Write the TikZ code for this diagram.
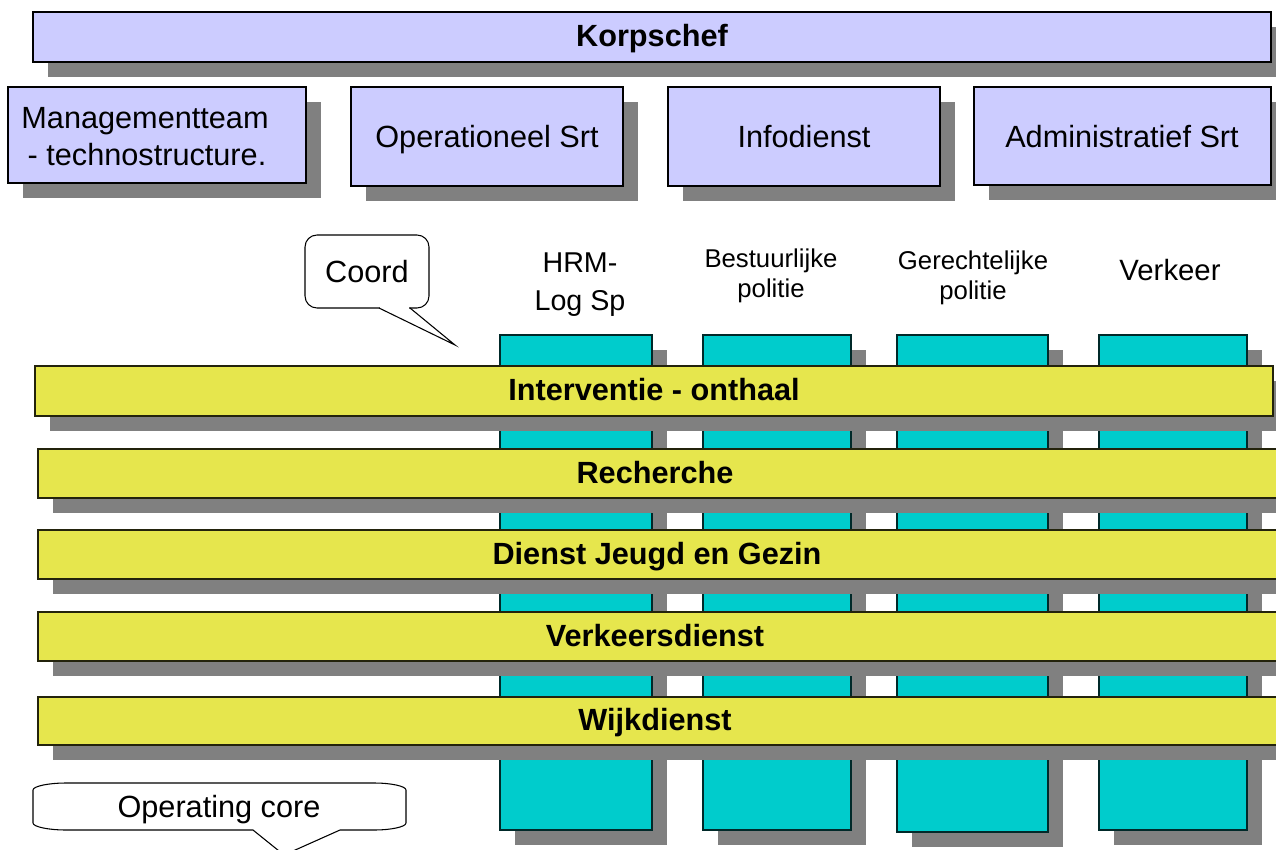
\documentclass[tikz,border=0pt]{standalone}
\usepackage{fontspec}
\setmainfont{Liberation Sans}
\usetikzlibrary{fit,shadows}
\definecolor{lav}{HTML}{CCCCFF}
\definecolor{cyanc}{HTML}{00CCCC}
\definecolor{yel}{HTML}{E6E64D}
\definecolor{shd}{HTML}{808080}
\tikzset{
  base/.style={draw=black, line width=0.9pt, inner sep=0pt,
    drop shadow={shadow xshift=11.25pt, shadow yshift=-11.25pt, fill=shd, opacity=1}},
  topbox/.style={base, fill=lav},
  colbox/.style={base, fill=cyanc, draw=black!80!cyanc},
  barbox/.style={base, fill=yel, draw=black!85!yel},
  bigtxt/.style={font=\fontsize{23}{27.75}\selectfont, inner sep=0pt, anchor=base},
  boldtxt/.style={font=\bfseries\fontsize{23}{27.75}\selectfont, inner sep=0pt, anchor=base},
  hdtxt/.style={font=\fontsize{21.5}{28.5}\selectfont, inner sep=0pt, anchor=base},
  smtxt/.style={font=\fontsize{19.3}{23}\selectfont, inner sep=0pt, anchor=base},
  callout/.style={draw=black, line width=0.8pt, fill=white},
}
\begin{document}
\begin{tikzpicture}[x=0.75pt, y=-0.75pt]
\useasboundingbox (0,0) rectangle (1276,849);
\clip (0,0) rectangle (1276,849);

% top boxes
\node[topbox, fit={(33,12) (1271,62)}] (korps) {};
\node[boldtxt] (korpst) at (652,47) {Korpschef};
\node[topbox, fit={(8,87) (306,183)}] (mgmt) {};
\node[bigtxt] (mgmtt1) at (145,128) {Managementteam};
\node[bigtxt] (mgmtt2) at (147,165) {- technostructure.};
\node[topbox, fit={(351,87) (623,186)}] (oper) {};
\node[bigtxt] (opert) at (487,147) {Operationeel Srt};
\node[topbox, fit={(668,87) (940,186)}] (info) {};
\node[bigtxt] (infot) at (804,147) {Infodienst};
\node[topbox, fit={(974,87) (1271,185)}] (admin) {};
\node[bigtxt] (admint) at (1122,147) {Administratief Srt};

% column headers
\node[hdtxt] (hrm1) at (580,272) {HRM-};
\node[hdtxt] (hrm2) at (580,310) {Log Sp};
\node[smtxt] (best1) at (771,267) {Bestuurlijke};
\node[smtxt] (best2) at (771,297) {politie};
\node[smtxt] (ger1) at (973,269) {Gerechtelijke};
\node[smtxt] (ger2) at (973,299) {politie};
\node[hdtxt, font=\fontsize{22}{28}\selectfont] (verk) at (1170,280) {Verkeer};

% columns
\node[colbox, fit={(500,335) (652,830)}] (c1) {};
\node[colbox, fit={(703,335) (851,830)}] (c2) {};
\node[colbox, fit={(897,335) (1048,832)}] (c3) {};
\node[colbox, fit={(1099,335) (1247,830)}] (c4) {};

% bars
\node[barbox, fit={(35,366) (1273,416)}] (b1) {};
\node[boldtxt] (b1t) at (654,400) {Interventie - onthaal};
\node[barbox, fit={(38,449) (1300,498)}] (b2) {};
\node[boldtxt] (b2t) at (655,483) {Recherche};
\node[barbox, fit={(38,530) (1300,579)}] (b3) {};
\node[boldtxt] (b3t) at (657,564) {Dienst Jeugd en Gezin};
\node[barbox, fit={(38,612) (1300,661)}] (b4) {};
\node[boldtxt] (b4t) at (655,646) {Verkeersdienst};
\node[barbox, fit={(38,697) (1300,745)}] (b5) {};
\node[boldtxt] (b5t) at (655,730) {Wijkdienst};

% Coord callout
\node[callout, rounded corners=9pt, minimum width=93pt, minimum height=54.75pt, inner sep=0pt] (coord) at (367,271.5) {};
\coordinate (coordtip) at (455,345);
\fill[white] (380,306.5) rectangle (409,310);
\draw[line width=0.8pt] (379,308) -- (coordtip) -- (410,308);
\node[bigtxt] (coordt) at (367,282) {Coord};

% Operating core callout
\coordinate (optip) at (284,855);
\draw[callout] (33,790) .. controls (33,786) and (50,783) .. (65,783) -- (375,783)
  .. controls (390,783) and (406,786) .. (406,790) -- (406,823)
  .. controls (406,827) and (390,830) .. (375,830) -- (340,830) -- (optip) -- (253,830)
  -- (65,830) .. controls (50,830) and (33,827) .. (33,823) -- cycle;
\node[bigtxt] (opcore) at (219,817) {Operating core};
\end{tikzpicture}
\end{document}
